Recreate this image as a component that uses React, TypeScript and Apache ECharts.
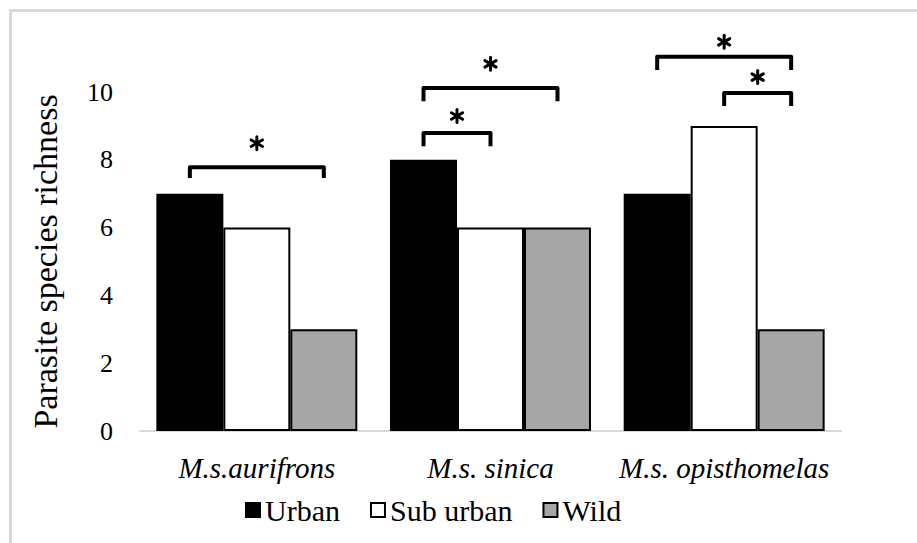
import React, { useEffect, useRef } from "react";
import * as echarts from "echarts";

const categories = ["M.s.aurifrons", "M.s. sinica", "M.s. opisthomelas"];
const seriesNames = ["Urban", "Sub urban", "Wild"];
const urban = [7, 8, 7];
const subUrban = [6, 6, 9];
const wild = [3, 6, 3];
const yTicks = [0, 2, 4, 6, 8, 10];

// significance brackets: category index, from bar (0..2), to bar, top value, leg-end value, star value
const bracketCat = [0, 1, 1, 2, 2];
const bracketFrom = [0, 0, 0, 0, 1];
const bracketTo = [2, 1, 2, 2, 2];
const bracketTop = [7.78, 8.79, 10.12, 11.04, 9.97];
const bracketLeg = [7.46, 8.4, 9.73, 10.65, 9.59];
const starValue = [8.49, 9.29, 10.83, 11.48, 10.44];

const FONT = "Liberation Serif";
const CAT_GAP = 0.14;
const STAR_R = 6.5;

export default function App() {
  const ref = useRef<HTMLDivElement>(null);
  useEffect(() => {
    if (!ref.current) return;
    const chart = echarts.init(ref.current, undefined, { renderer: "svg" });
    const barStyle = (color: string) => ({
      color,
      borderColor: "#000",
      borderWidth: 2,
    });
    chart.setOption({
      animation: false,
      textStyle: { fontFamily: FONT },
      grid: [{ left: 140, right: 76, top: 92, bottom: 112 }],
      legend: {
        data: seriesNames,
        top: 490,
        left: 240,
        itemWidth: 14,
        itemHeight: 14,
        itemGap: 30,
        icon: "rect",
        textStyle: { fontFamily: FONT, fontSize: 30, color: "#000" },
      },
      xAxis: [
        {
          type: "category",
          data: categories,
          axisTick: { show: false },
          axisLine: { lineStyle: { color: "#d9d9d9", width: 2 } },
          axisLabel: {
            interval: 0,
            fontFamily: FONT,
            fontStyle: "italic",
            fontSize: 29,
            color: "#000",
            margin: 22,
          },
        },
      ],
      yAxis: [
        {
          type: "value",
          min: yTicks[0],
          max: yTicks[yTicks.length - 1],
          interval: 2,
          splitLine: { show: false },
          axisLine: { show: false },
          axisTick: { show: false },
          axisLabel: { fontFamily: FONT, fontSize: 26, color: "#000", margin: 27 },
          name: "Parasite species richness",
          nameLocation: "middle",
          nameGap: 78,
          nameTextStyle: { fontFamily: FONT, fontSize: 34, color: "#000" },
        },
      ],
      series: [
        { name: seriesNames[0], type: "bar", data: urban, barGap: "0%", barCategoryGap: CAT_GAP * 100 + "%", itemStyle: barStyle("#000") },
        { name: seriesNames[1], type: "bar", data: subUrban, barGap: "0%", barCategoryGap: CAT_GAP * 100 + "%", itemStyle: barStyle("#fff") },
        { name: seriesNames[2], type: "bar", data: wild, barGap: "0%", barCategoryGap: CAT_GAP * 100 + "%", itemStyle: barStyle("#a6a6a6") },
      ],
    });

    // brackets and asterisks placed through the chart's own axes
    const p0 = chart.convertToPixel({ gridIndex: 0 }, [0, 0]) as number[];
    const p1 = chart.convertToPixel({ gridIndex: 0 }, [1, 0]) as number[];
    const catW = p1[0] - p0[0];
    const barW = (catW * (1 - CAT_GAP)) / 3;
    const elements: any[] = [];
    const armAngles = [90, 30, 150];
    bracketCat.forEach((c, i) => {
      const top = chart.convertToPixel({ gridIndex: 0 }, [c, bracketTop[i]]) as number[];
      const leg = chart.convertToPixel({ gridIndex: 0 }, [c, bracketLeg[i]]) as number[];
      const star = chart.convertToPixel({ gridIndex: 0 }, [c, starValue[i]]) as number[];
      const x1 = top[0] + (bracketFrom[i] - 1) * barW;
      const x2 = top[0] + (bracketTo[i] - 1) * barW;
      elements.push({
        type: "polyline",
        silent: true,
        z: 100,
        shape: { points: [[x1, leg[1]], [x1, top[1]], [x2, top[1]], [x2, leg[1]]] },
        style: { stroke: "#000", lineWidth: 4, fill: null, lineJoin: "round" },
      });
      const cx = (x1 + x2) / 2;
      const cy = star[1];
      armAngles.forEach((a) => {
        const rad = (a * Math.PI) / 180;
        const dx = Math.cos(rad) * STAR_R;
        const dy = Math.sin(rad) * STAR_R;
        elements.push({
          type: "line",
          silent: true,
          z: 100,
          shape: { x1: cx - dx, y1: cy - dy, x2: cx + dx, y2: cy + dy },
          style: { stroke: "#000", lineWidth: 3, lineCap: "round" },
        });
      });
    });
    chart.setOption({ graphic: elements });
    return () => chart.dispose();
  }, []);
  return (
    <div
      style={{
        position: "fixed",
        left: 0,
        top: 0,
        width: 917,
        height: 543,
        background: "#fff",
        overflow: "hidden",
      }}
    >
      <div
        style={{
          position: "absolute",
          left: 9,
          top: 9,
          width: 1000,
          height: 1000,
          border: "3px solid #d9d9d9",
        }}
      />
      <div ref={ref} style={{ position: "absolute", left: 0, top: 0, width: 917, height: 543 }} />
    </div>
  );
}
